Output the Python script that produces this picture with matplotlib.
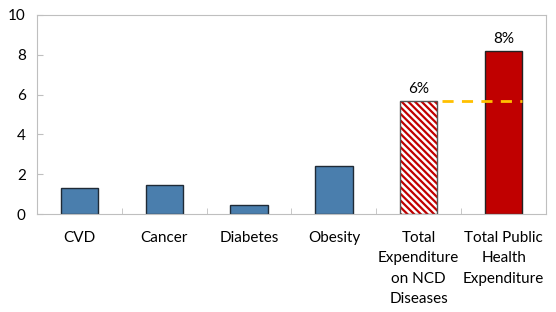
import matplotlib.pyplot as plt
import numpy as np

categories = ['CVD', 'Cancer', 'Diabetes', 'Obesity',
              'Total\nExpenditure\non NCD\nDiseases', 'Total Public\nHealth\nExpenditure']
values = [1.3, 1.48, 0.43, 2.4, 5.68, 8.2]
bar_labels = ['6%', '8%']

plt.rcParams['font.family'] = ['Lato', 'DejaVu Sans']
plt.rcParams['hatch.linewidth'] = 1.6

fig = plt.figure(figsize=(5.56, 3.12), dpi=100)
ax = fig.add_axes([0.0665, 0.314, 0.9155, 0.638])
x = np.arange(len(categories))
w = 0.44

ax.bar(x[:4], values[:4], w, color='#4A7EAD', edgecolor='#1f2a36', linewidth=1)
# hatched NCD bar
ax.bar(x[4], values[4], w, color='white', edgecolor='#C00000', hatch='\\' * 5, linewidth=0)
ax.bar(x[4], values[4], w, color='none', edgecolor='#555555', linewidth=1)
ax.bar(x[5], values[5], w, color='#C00000', edgecolor='#222222', linewidth=1)

ax.plot([x[4] + w / 2 + 0.05, x[5] + w / 2], [values[4], values[4]], color='#FFC000',
        linewidth=2, dashes=(4, 3))

for i, lab in zip([4, 5], bar_labels):
    ax.text(x[i], values[i] + 0.25, lab, ha='center', va='bottom', fontsize=11)

ax.set_xlim(-0.5, 5.5)
ax.set_ylim(0, 10)
ax.set_yticks(range(0, 11, 2))
ax.set_xticks(x)
ax.set_xticklabels(categories, fontsize=11, va='top', linespacing=1.6)
ax.set_xticks(np.arange(0.5, 5.5, 1), minor=True)
ax.tick_params(axis='x', which='major', length=0, pad=12)
ax.tick_params(axis='x', which='minor', length=4, direction='in', color='#BFBFBF')
ax.tick_params(axis='y', length=4, direction='in', color='#BFBFBF', labelsize=11, pad=8)
for s in ax.spines.values():
    s.set_color('#BFBFBF')

fig.savefig('out.png', dpi=100)
